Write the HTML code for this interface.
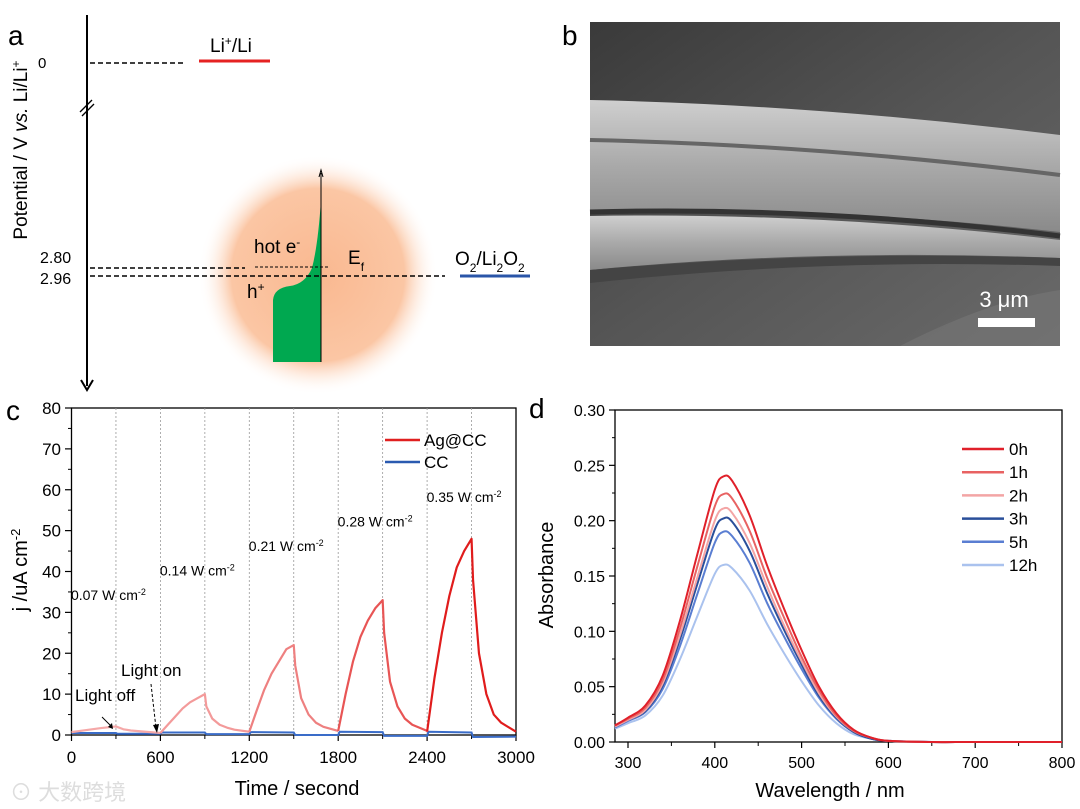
<!DOCTYPE html>
<html><head><meta charset="utf-8"><style>
html,body{margin:0;padding:0;background:#fff;}
svg{display:block;font-family:"Liberation Sans","Noto Sans CJK SC",sans-serif;}
</style></head><body>
<svg width="1080" height="809" viewBox="0 0 1080 809" xmlns="http://www.w3.org/2000/svg">
<defs>
<radialGradient id="glow" cx="0.5" cy="0.5" r="0.5">
<stop offset="0" stop-color="#f9b890"/><stop offset="0.72" stop-color="#fbc6a4"/><stop offset="1" stop-color="#fff" stop-opacity="0"/>
</radialGradient>
<linearGradient id="semBg" x1="0" y1="0" x2="1" y2="1">
<stop offset="0" stop-color="#3a3a3a"/><stop offset="0.5" stop-color="#555"/><stop offset="1" stop-color="#6a6a6a"/>
</linearGradient>
<linearGradient id="fiber" x1="0" y1="0" x2="0" y2="1">
<stop offset="0" stop-color="#cfcfcf"/><stop offset="0.5" stop-color="#a9a9a9"/><stop offset="1" stop-color="#8a8a8a"/>
</linearGradient>
</defs>

<!-- Panel a -->
<g>
<text x="8" y="45" font-size="28">a</text>
<line x1="87" y1="15" x2="87" y2="386" stroke="#000" stroke-width="2"/>
<path d="M81 380 L87 390 L93 380" fill="none" stroke="#000" stroke-width="2"/>
<line x1="80" y1="112" x2="92" y2="100" stroke="#000" stroke-width="1.3"/>
<line x1="82" y1="116" x2="94" y2="104" stroke="#000" stroke-width="1.3"/>
<text transform="translate(27,150) rotate(-90)" text-anchor="middle" font-size="19">Potential / V <tspan font-style="italic">vs.</tspan> Li/Li<tspan baseline-shift="super" font-size="12">+</tspan></text>
<text x="38" y="68" font-size="15">0</text>
<text x="40" y="263" font-size="16">2.80</text>
<text x="40" y="284" font-size="16">2.96</text>
<line x1="90" y1="63" x2="185" y2="63" stroke="#000" stroke-width="1.5" stroke-dasharray="5,3"/>
<line x1="199" y1="61" x2="270" y2="61" stroke="#e52222" stroke-width="3"/>
<text x="210" y="52" font-size="19">Li<tspan baseline-shift="super" font-size="12">+</tspan>/Li</text>
<circle cx="318" cy="275" r="120" fill="url(#glow)"/>
<path d="M273 362 L273 300 Q274 288 290 286 Q305 284 312 268 Q318 245 321 200 L321 362 Z" fill="#00a850"/>
<line x1="321" y1="362" x2="321" y2="173" stroke="#000" stroke-width="1"/>
<path d="M319 177 L321 170 L323 177" fill="none" stroke="#000" stroke-width="1"/>
<line x1="90" y1="268" x2="245" y2="268" stroke="#000" stroke-width="1.5" stroke-dasharray="5,3"/>
<line x1="255" y1="267" x2="330" y2="267" stroke="#000" stroke-width="1" stroke-dasharray="3,2"/>
<line x1="90" y1="276" x2="445" y2="276" stroke="#000" stroke-width="1.5" stroke-dasharray="5,3"/>
<line x1="460" y1="276" x2="530" y2="276" stroke="#2a55a8" stroke-width="3"/>
<text x="254" y="253" font-size="19">hot e<tspan baseline-shift="super" font-size="12">-</tspan></text>
<text x="348" y="264" font-size="19">E<tspan baseline-shift="sub" font-size="12">f</tspan></text>
<text x="247" y="298" font-size="19">h<tspan baseline-shift="super" font-size="12">+</tspan></text>
<text x="455" y="265" font-size="19">O<tspan baseline-shift="sub" font-size="12">2</tspan>/Li<tspan baseline-shift="sub" font-size="12">2</tspan>O<tspan baseline-shift="sub" font-size="12">2</tspan></text>
</g>

<!-- Panel b -->
<g>
<text x="562" y="45" font-size="28">b</text>
<rect x="590" y="22" width="470" height="324" fill="url(#semBg)"/>
<path d="M590 100 Q820 105 1060 135 L1060 232 Q820 205 590 212 Z" fill="url(#fiber)"/>
<path d="M590 140 Q820 145 1060 175" stroke="#666" stroke-width="4" fill="none"/>
<path d="M590 212 Q820 206 1060 236" stroke="#333" stroke-width="5" fill="none"/>
<path d="M590 216 Q820 212 1060 240 L1060 258 Q820 248 590 270 Z" fill="url(#fiber)"/>
<path d="M590 270 Q820 250 1060 258 L1060 266 Q820 258 590 283 Z" fill="#444"/>
<path d="M900 346 Q990 300 1060 290 L1060 346 Z" fill="#777" opacity="0.6"/>
<text x="1004" y="307" font-size="22" fill="#fff" text-anchor="middle">3 μm</text>
<rect x="978" y="318" width="57" height="9" fill="#fff"/>
</g>

<!-- Panel c -->
<g id="pc">
<text x="6" y="420" font-size="28">c</text>
<rect x="71.5" y="408" width="444.5" height="327" fill="none" stroke="#000" stroke-width="1.3"/>
</g>

<!-- Panel d -->
<g id="pd">
<text x="529" y="418" font-size="28">d</text>
<rect x="615" y="410" width="447" height="332" fill="none" stroke="#000" stroke-width="1.3"/>
</g>

<text x="10" y="800" font-size="22" fill="#ddd">⊙ 大数跨境</text>
</svg>

<script>
// ---- Panel c data ----
const cTicksX = [0, 600, 1200, 1800, 2400, 3000];
const cTicksY = [0, 10, 20, 30, 40, 50, 60, 70, 80];
const cycleColors = ['#f5a8a8', '#f39a9a', '#ee8080', '#e85555', '#e01c1c'];
const agT0 = [0, 100, 200, 300, 350, 400, 500, 600];
const agJ0 = [0.7, 1.2, 1.7, 2.1, 1.4, 1.1, 0.8, 0.5];
const agT1 = [600, 650, 700, 750, 800, 850, 900, 910, 950, 1000, 1050, 1100, 1200];
const agJ1 = [0.5, 2.5, 4.5, 6.5, 8, 9, 10, 7, 4, 2.5, 1.8, 1.3, 0.8];
const agT2 = [1200, 1250, 1300, 1350, 1400, 1450, 1500, 1510, 1550, 1600, 1650, 1700, 1800];
const agJ2 = [0.8, 6, 11, 15, 18, 21, 22, 17, 9, 5, 3, 2, 1];
const agT3 = [1800, 1850, 1900, 1950, 2000, 2050, 2100, 2110, 2150, 2200, 2250, 2300, 2400];
const agJ3 = [1, 10, 18, 24, 28, 31, 33, 25, 13, 7, 4, 2.5, 1];
const agT4 = [2400, 2450, 2500, 2550, 2600, 2650, 2700, 2710, 2750, 2800, 2850, 2900, 3000];
const agJ4 = [0.8, 14, 25, 34, 41, 45, 48, 38, 20, 10, 5, 3, 0.8];
const ccT = [0, 300, 310, 600, 610, 900, 910, 1200, 1210, 1500, 1510, 1800, 1810, 2100, 2110, 2400, 2410, 2700, 2710, 3000];
const ccJ = [0.5, 0.5, 0.3, 0.3, 0.6, 0.6, 0.2, 0.2, 0.7, 0.6, 0.0, 0.0, 0.8, 0.7, -0.2, -0.2, 0.8, 0.6, -0.5, -0.4];
const lightEdges = [300, 600, 900, 1200, 1500, 1800, 2100, 2400, 2700];
const powerLabels = ['0.07', '0.14', '0.21', '0.28', '0.35'];
const powerLabelT = [10, 610, 1210, 1810, 2410];
const powerLabelJ = [33, 39, 45, 51, 57];

// ---- Panel d data ----
const dTicksX = [300, 400, 500, 600, 700, 800];
const dTicksY = [0, 0.05, 0.10, 0.15, 0.20, 0.25, 0.30];
const wl = [285, 300, 320, 340, 360, 380, 400, 410, 420, 440, 460, 480, 500, 520, 540, 560, 580, 600, 650, 700, 800];
const abs0h = [0.015, 0.022, 0.033, 0.060, 0.110, 0.170, 0.228, 0.240, 0.236, 0.205, 0.160, 0.120, 0.083, 0.050, 0.026, 0.011, 0.004, 0.001, 0, 0, 0];
const abs1h = [0.015, 0.021, 0.031, 0.056, 0.103, 0.159, 0.213, 0.224, 0.220, 0.191, 0.149, 0.112, 0.077, 0.047, 0.024, 0.010, 0.004, 0.001, 0, 0, 0];
const abs2h = [0.014, 0.020, 0.029, 0.053, 0.097, 0.149, 0.200, 0.211, 0.207, 0.180, 0.141, 0.105, 0.073, 0.044, 0.023, 0.010, 0.004, 0.001, 0, 0, 0];
const abs3h = [0.014, 0.020, 0.028, 0.051, 0.093, 0.143, 0.192, 0.202, 0.199, 0.173, 0.135, 0.101, 0.070, 0.042, 0.022, 0.009, 0.003, 0.001, 0, 0, 0];
const abs5h = [0.013, 0.019, 0.027, 0.048, 0.087, 0.134, 0.180, 0.190, 0.186, 0.162, 0.126, 0.095, 0.066, 0.040, 0.021, 0.009, 0.003, 0.001, 0, 0, 0];
const abs12h = [0.012, 0.017, 0.024, 0.042, 0.075, 0.114, 0.152, 0.160, 0.157, 0.137, 0.107, 0.080, 0.055, 0.033, 0.017, 0.007, 0.003, 0.001, 0, 0, 0];
const dLabels = ['0h', '1h', '2h', '3h', '5h', '12h'];
const dColors = ['#e0202a', '#e86262', '#f3a5a5', '#2a4f9a', '#5a7ed2', '#aac2ee'];

const NS = 'http://www.w3.org/2000/svg';
function mk(tag, attrs, parent) {
  const e = document.createElementNS(NS, tag);
  for (const k in attrs) e.setAttribute(k, attrs[k]);
  parent.appendChild(e);
  return e;
}
function smooth(pts) {
  let d = 'M' + pts[0][0] + ' ' + pts[0][1];
  for (let i = 0; i < pts.length - 1; i++) {
    const p0 = pts[Math.max(0, i - 1)], p1 = pts[i], p2 = pts[i + 1], p3 = pts[Math.min(pts.length - 1, i + 2)];
    const c1x = p1[0] + (p2[0] - p0[0]) / 6, c1y = p1[1] + (p2[1] - p0[1]) / 6;
    const c2x = p2[0] - (p3[0] - p1[0]) / 6, c2y = p2[1] - (p3[1] - p1[1]) / 6;
    d += ' C' + c1x + ' ' + c1y + ' ' + c2x + ' ' + c2y + ' ' + p2[0] + ' ' + p2[1];
  }
  return d;
}

// ---- draw panel c ----
const pc = document.getElementById('pc');
const cx = t => 71.5 + t / 3000 * 444.5;
const cy = j => 735 - j / 80 * 327;
lightEdges.forEach(t => {
  const l = mk('line', {x1: cx(t), x2: cx(t), y1: 408, y2: 735, stroke: '#999', 'stroke-width': 0.8, 'stroke-dasharray': '2,2'}, pc);
  
  
});
cTicksX.forEach(v => {
  mk('line', {x1: cx(v), x2: cx(v), y1: 735, y2: 741, stroke: '#000', 'stroke-width': 1.2}, pc);
  const t = mk('text', {x: cx(v), y: 763, 'font-size': 17, 'text-anchor': 'middle'}, pc);
  t.textContent = v;
  
  
});
for (let v = 300; v < 3000; v += 600) mk('line', {x1: cx(v), x2: cx(v), y1: 735, y2: 739, stroke: '#000'}, pc);
cTicksY.forEach(v => {
  mk('line', {x1: 65, x2: 71.5, y1: cy(v), y2: cy(v), stroke: '#000', 'stroke-width': 1.2}, pc);
  const t = mk('text', {x: 61, y: cy(v) + 6, 'font-size': 17, 'text-anchor': 'end'}, pc);
  t.textContent = v;
  
  
});
for (let v = 5; v < 80; v += 10) mk('line', {x1: 68, x2: 71.5, y1: cy(v), y2: cy(v), stroke: '#000'}, pc);
{
  const ccPts = ccT.map((t, i) => cx(t) + ',' + cy(ccJ[i])).join(' ');
  const cc = mk('polyline', {points: ccPts, fill: 'none', stroke: '#3a6cc8', 'stroke-width': 2}, pc);
  
  
}
[[agT0, agJ0], [agT1, agJ1], [agT2, agJ2], [agT3, agJ3], [agT4, agJ4]].forEach((s, k) => {
  const pts = s[0].map((t, i) => cx(t) + ',' + cy(s[1][i])).join(' ');
  const p = mk('polyline', {points: pts, fill: 'none', stroke: cycleColors[k], 'stroke-width': 2.2, 'stroke-linejoin': 'round'}, pc);
  
  
});
powerLabels.forEach((v, i) => {
  const t = mk('text', {x: cx(powerLabelT[i]) - 2, y: cy(powerLabelJ[i]), 'font-size': 14}, pc);
  t.innerHTML = v + ' W cm<tspan baseline-shift="super" font-size="9">-2</tspan>';
  
  
});
{
  const a1 = mk('text', {x: 75, y: 701, 'font-size': 17}, pc); a1.textContent = 'Light off';
  
  
  const a2 = mk('text', {x: 121, y: 676, 'font-size': 17}, pc); a2.textContent = 'Light on';
  
  
  mk('line', {x1: 102, y1: 717, x2: 112, y2: 727, stroke: '#000', 'stroke-width': 1}, pc);
  mk('path', {d: 'M108 727 L113 729 L112 723 Z', fill: '#000'}, pc);
  mk('line', {x1: 151, y1: 684, x2: 156, y2: 728, stroke: '#000', 'stroke-width': 1, 'stroke-dasharray': '3,2'}, pc);
  mk('path', {d: 'M153 725 L157 733 L159 724 Z', fill: '#000'}, pc);
  mk('line', {x1: 385, x2: 420, y1: 440, y2: 440, stroke: '#e02020', 'stroke-width': 2.5}, pc);
  mk('line', {x1: 385, x2: 420, y1: 462, y2: 462, stroke: '#2a5ab0', 'stroke-width': 2.5}, pc);
  const l1 = mk('text', {x: 424, y: 446, 'font-size': 17}, pc); l1.textContent = 'Ag@CC';
  
  
  const l2 = mk('text', {x: 424, y: 468, 'font-size': 17}, pc); l2.textContent = 'CC';
  
  
  const xt = mk('text', {x: 297, y: 795, 'font-size': 20, 'text-anchor': 'middle'}, pc); xt.textContent = 'Time / second';
  
  
  const yt = mk('text', {transform: 'translate(27,570) rotate(-90)', 'font-size': 20, 'text-anchor': 'middle'}, pc);
  yt.innerHTML = 'j /uA cm<tspan baseline-shift="super" font-size="13">-2</tspan>';
  
  
}

// ---- draw panel d ----
const pd = document.getElementById('pd');
const dx = w => 628 + (w - 300) * 0.868;
const dy = a => 742 - a / 0.3 * 332;
dTicksX.forEach(v => {
  mk('line', {x1: dx(v), x2: dx(v), y1: 742, y2: 748, stroke: '#000', 'stroke-width': 1.2}, pd);
  const t = mk('text', {x: dx(v), y: 768, 'font-size': 16, 'text-anchor': 'middle'}, pd);
  t.textContent = v;
  
  
});
for (let v = 350; v < 800; v += 100) mk('line', {x1: dx(v), x2: dx(v), y1: 742, y2: 746, stroke: '#000'}, pd);
dTicksY.forEach(v => {
  mk('line', {x1: 609, x2: 615, y1: dy(v), y2: dy(v), stroke: '#000', 'stroke-width': 1.2}, pd);
  const t = mk('text', {x: 605, y: dy(v) + 6, 'font-size': 16, 'text-anchor': 'end'}, pd);
  t.textContent = v.toFixed(2);
  
  
});
for (let v = 0.025; v < 0.3; v += 0.05) mk('line', {x1: 612, x2: 615, y1: dy(v), y2: dy(v), stroke: '#000'}, pd);
[abs12h, abs5h, abs3h, abs2h, abs1h, abs0h].forEach((s, k) => {
  const idx = 5 - k;
  const pts = wl.map((w, i) => [dx(w), dy(s[i])]);
  const p = mk('path', {d: smooth(pts), fill: 'none', stroke: dColors[idx], 'stroke-width': 2}, pd);
  
  
});
dLabels.forEach((lab, i) => {
  const y = 449 + i * 23.2;
  mk('line', {x1: 962, x2: 1004, y1: y, y2: y, stroke: dColors[i], 'stroke-width': 2.5}, pd);
  const t = mk('text', {x: 1009, y: y + 6, 'font-size': 17}, pd);
  t.textContent = lab;
  
  
});
{
  const xt = mk('text', {x: 830, y: 797, 'font-size': 20, 'text-anchor': 'middle'}, pd); xt.textContent = 'Wavelength / nm';
  
  
  const yt = mk('text', {transform: 'translate(553,575) rotate(-90)', 'font-size': 20, 'text-anchor': 'middle'}, pd); yt.textContent = 'Absorbance';
  
  
}
</script>
</body></html>
